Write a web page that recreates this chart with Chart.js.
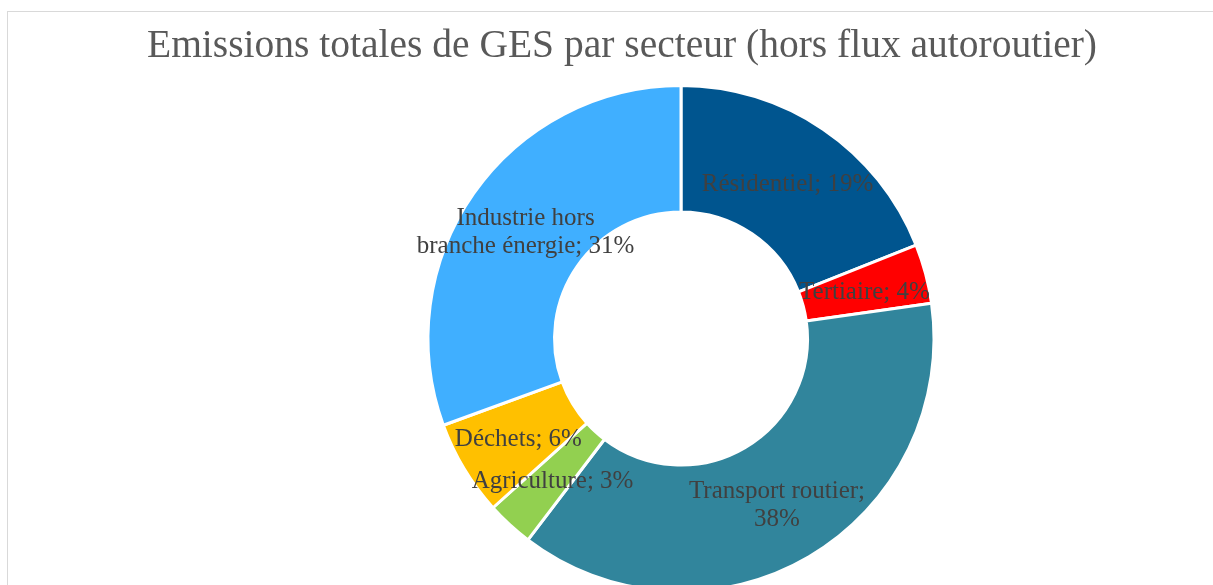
<!DOCTYPE html>
<html lang="fr">
<head>
<meta charset="utf-8">
<title>Emissions totales de GES par secteur</title>
<script src="https://cdn.jsdelivr.net/npm/chart.js@4.4.1/dist/chart.umd.min.js"></script>
<style>
  html, body { margin: 0; padding: 0; background: #fff; overflow: hidden; }
  canvas { display: block; }
</style>
</head>
<body>
<canvas id="ges" width="1213" height="620"></canvas>
<script>
const titre = 'Emissions totales de GES par secteur (hors flux autoroutier)';
const secteurs = ['Résidentiel', 'Tertiaire', 'Transport routier', 'Agriculture', 'Déchets', 'Industrie hors branche énergie'];
const parts = [19.0, 3.8, 37.6, 3.0, 6.1, 30.6];
const couleurs = ['#00558F', '#FF0000', '#31859C', '#92D050', '#FFC000', '#40AFFF'];

const fontSerif = '"Liberation Serif", "Times New Roman", serif';

function wrapText(ctx, text, maxWidth) {
    const words = text.split(' ');
    const lines = [];
    let line = '';
    words.forEach(function (w) {
        const test = line ? line + ' ' + w : w;
        if (line && ctx.measureText(test).width > maxWidth) {
            lines.push(line);
            line = w;
        } else {
            line = test;
        }
    });
    lines.push(line);
    return lines;
}

// fond, cadre gris et titre
const cadre = {
    id: 'cadre',
    beforeDraw: (chart) => {
        const { ctx } = chart;
        ctx.save();
        ctx.fillStyle = '#ffffff';
        ctx.fillRect(0, 0, chart.width, chart.height);
        ctx.strokeStyle = '#d9d9d9';
        ctx.lineWidth = 1;
        ctx.strokeRect(7.5, 11.5, chart.width + 20, chart.height + 20);
        ctx.fillStyle = '#595959';
        ctx.font = '39.5px ' + fontSerif;
        ctx.textAlign = 'center';
        ctx.textBaseline = 'alphabetic';
        ctx.fillText(titre, 622, 57);
        ctx.restore();
    }
};

// étiquettes "secteur; xx%" au centre de chaque part
const etiquettes = {
    id: 'etiquettes',
    afterDatasetsDraw: (chart) => {
        const { ctx } = chart;
        const meta = chart.getDatasetMeta(0);
        const total = parts.reduce((a, b) => a + b, 0);
        ctx.save();
        ctx.font = '25px ' + fontSerif;
        ctx.fillStyle = '#404040';
        ctx.textAlign = 'center';
        ctx.textBaseline = 'alphabetic';
        meta.data.forEach(function (arc, i) {
            const pos = arc.tooltipPosition();
            const texte = secteurs[i] + '; ' + Math.round(parts[i] * 100 / total) + '%';
            const lines = wrapText(ctx, texte, 220);
            const lh = 28, cap = 19;
            let y = pos.y - (lines.length - 1) * lh / 2 + cap / 2;
            lines.forEach(function (l) {
                ctx.fillText(l, pos.x, y);
                y += lh;
            });
        });
        ctx.restore();
    }
};

new Chart(document.getElementById('ges'), {
    type: 'doughnut',
    data: {
        labels: secteurs,
        datasets: [{
            data: parts,
            backgroundColor: couleurs,
            borderColor: '#ffffff',
            borderWidth: 3,
            hoverBorderWidth: 3
        }]
    },
    options: {
        responsive: false,
        animation: false,
        events: [],
        cutout: '50%',
        layout: { padding: { top: 84, bottom: 27, left: 149, right: 0 } },
        plugins: {
            legend: { display: false },
            tooltip: { enabled: false },
            title: { display: false }
        }
    },
    plugins: [cadre, etiquettes]
});
</script>
</body>
</html>
